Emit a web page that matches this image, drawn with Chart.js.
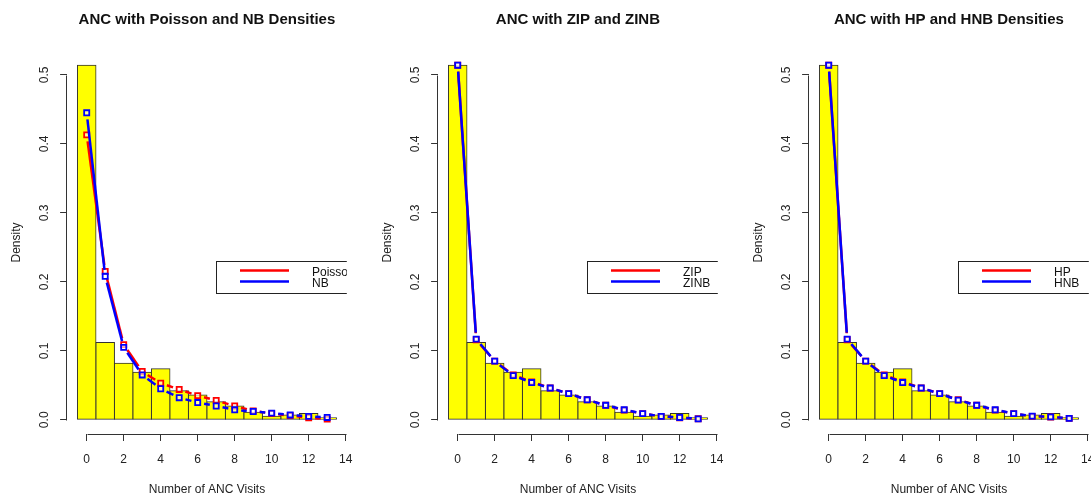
<!DOCTYPE html>
<html>
<head>
<meta charset="utf-8">
<title>ANC visits</title>
<script src="https://cdn.jsdelivr.net/npm/chart.js@4.4.1/dist/chart.umd.min.js"></script>
<style>
  html, body { margin: 0; padding: 0; background: #fff; overflow: hidden; }
  #wrap { position: relative; width: 1091px; height: 497px; overflow: hidden; }
  canvas { position: absolute; top: 0; }
</style>
</head>
<body>
<div id="wrap">
  <canvas id="c1" width="371" height="497" style="left:0px"></canvas>
  <canvas id="c2" width="371" height="497" style="left:371px"></canvas>
  <canvas id="c3" width="371" height="497" style="left:742px"></canvas>
</div>
<script>
// number of ANC visits (0..13) and observed density
var visits = [0, 1, 2, 3, 4, 5, 6, 7, 8, 9, 10, 11, 12, 13];
var ancDensity = [0.514, 0.112, 0.082, 0.069, 0.074, 0.042, 0.036, 0.026, 0.020, 0.011, 0.005, 0.007, 0.009, 0.003];

// fitted densities
var poissonDens = [0.413, 0.215, 0.109, 0.070, 0.053, 0.044, 0.035, 0.028, 0.020, 0.013, 0.009, 0.006, 0.003, 0.001];
var nbDens      = [0.445, 0.208, 0.105, 0.065, 0.045, 0.032, 0.025, 0.020, 0.0145, 0.012, 0.0097, 0.007, 0.005, 0.0034];
var zipDens     = [0.514, 0.116, 0.085, 0.065, 0.055, 0.046, 0.038, 0.029, 0.021, 0.014, 0.009, 0.005, 0.003, 0.0015];
var zinbDens    = [0.514, 0.117, 0.085, 0.064, 0.054, 0.046, 0.038, 0.029, 0.021, 0.0145, 0.009, 0.005, 0.0034, 0.0014];
var hpDens      = [0.514, 0.116, 0.085, 0.065, 0.055, 0.046, 0.038, 0.029, 0.021, 0.014, 0.009, 0.005, 0.004, 0.002];
var hnbDens     = [0.514, 0.117, 0.085, 0.064, 0.054, 0.046, 0.038, 0.0285, 0.021, 0.0145, 0.009, 0.0053, 0.0043, 0.002];

// axis ticks
var xTicks = [0, 2, 4, 6, 8, 10, 12, 14];
var xTickLabels = ['0', '2', '4', '6', '8', '10', '12', '14'];
var yTicks = [0, 0.1, 0.2, 0.3, 0.4, 0.5];
var yTickLabels = ['0.0', '0.1', '0.2', '0.3', '0.4', '0.5'];

Chart.defaults.font.family = '"Liberation Sans", Arial, sans-serif';
Chart.defaults.color = '#222';

function pairs(ys) {
  return visits.map(function (v, i) { return { x: v, y: ys[i] }; });
}

// R type="b": line segments with a gap around each point
function gapDash(ctx) {
  var dx = ctx.p1.x - ctx.p0.x, dy = ctx.p1.y - ctx.p0.y;
  var len = Math.sqrt(dx * dx + dy * dy);
  var gap = 6.5;
  var tail = len + 10 + ctx.p0DataIndex * 0.001;
  if (len <= 2 * gap) return [0, tail];
  return [0, gap, len - 2 * gap, tail];
}

function fitLine(label, ys, color, order) {
  return {
    type: 'line',
    label: label,
    data: pairs(ys),
    borderColor: color,
    borderWidth: 2.5,
    tension: 0,
    pointStyle: 'rect',
    pointRadius: 3.6,
    pointBorderWidth: 1.8,
    pointBorderColor: color,
    pointBackgroundColor: 'rgba(255,255,255,0.6)',
    segment: { borderDash: gapDash },
    order: order
  };
}

// axis lines only over the tick range, like R's axis()
var rAxes = {
  id: 'rAxes',
  afterDraw: function (chart) {
    var c = chart.ctx, a = chart.chartArea;
    var sx = chart.scales.x, sy = chart.scales.y;
    c.save();
    c.strokeStyle = '#333';
    c.lineWidth = 1;
    c.beginPath();
    var yb = Math.round(a.bottom) + 0.5;
    c.moveTo(Math.round(sx.getPixelForValue(xTicks[0])) + 0.5, yb);
    c.lineTo(Math.round(sx.getPixelForValue(xTicks[xTicks.length - 1])) + 0.5, yb);
    var xl = Math.round(a.left) - 0.5;
    c.moveTo(xl, Math.round(sy.getPixelForValue(yTicks[0])) + 0.5);
    c.lineTo(xl, Math.round(sy.getPixelForValue(yTicks[yTicks.length - 1])) + 0.5);
    c.stroke();
    c.restore();
  }
};

// boxed legend placed at data coordinates, clipped to plot region
var rLegend = {
  id: 'rLegend',
  afterDraw: function (chart, args, opts) {
    var c = chart.ctx, a = chart.chartArea;
    var left = Math.round(chart.scales.x.getPixelForValue(opts.x));
    var top = Math.round(chart.scales.y.getPixelForValue(opts.y));
    var items = chart.data.datasets.filter(function (d) { return d.type === 'line'; });
    c.save();
    c.beginPath();
    c.rect(a.left, a.top, a.right - a.left, a.bottom - a.top);
    c.clip();
    c.fillStyle = '#fff';
    c.fillRect(left, top, 160, 32);
    c.strokeStyle = '#222';
    c.lineWidth = 1;
    c.strokeRect(left + 0.5, top + 0.5, 160, 32);
    c.font = '12px "Liberation Sans", Arial, sans-serif';
    c.textBaseline = 'middle';
    c.textAlign = 'left';
    items.forEach(function (d, i) {
      var y = top + 9.5 + i * 11;
      c.strokeStyle = d.borderColor;
      c.lineWidth = 2.5;
      c.beginPath();
      c.moveTo(left + 24, y);
      c.lineTo(left + 73, y);
      c.stroke();
      c.fillStyle = '#111';
      c.fillText(d.label, left + 96, y + 2);
    });
    c.restore();
  }
};

function makePanel(id, title, name1, ys1, name2, ys2) {
  var ctx = document.getElementById(id).getContext('2d');
  return new Chart(ctx, {
    type: 'line',
    data: {
      datasets: [
        {
          type: 'bar',
          label: 'ANC',
          data: pairs(ancDensity),
          backgroundColor: '#ffff00',
          borderColor: '#333',
          borderWidth: 1,
          borderSkipped: false,
          inflateAmount: 0.5,
          barPercentage: 1,
          categoryPercentage: 1,
          order: 3
        },
        fitLine(name1, ys1, '#ff0000', 2),
        fitLine(name2, ys2, '#0000ff', 1)
      ]
    },
    options: {
      responsive: false,
      animation: false,
      events: [],
      layout: { padding: { left: 0, right: 24.2, top: 0, bottom: 0 } },
      plugins: {
        legend: { display: false },
        tooltip: { enabled: false },
        title: {
          display: true,
          text: title,
          fullSize: false,
          color: '#111',
          font: { size: 15, weight: 'bold' },
          padding: { top: 11, bottom: 22 }
        },
        rLegend: { x: 7, y: 0.23 }
      },
      scales: {
        x: {
          type: 'linear',
          min: -1.06,
          max: 14.06,
          offset: false,
          afterBuildTicks: function (s) { s.ticks = xTicks.map(function (v) { return { value: v }; }); },
          afterFit: function (s) { s.height = 63; },
          grid: { display: true, offset: false, drawOnChartArea: false, drawTicks: true, tickLength: 7, color: '#333' },
          border: { display: false },
          ticks: {
            autoSkip: false, maxRotation: 0, minRotation: 0, padding: 11,
            font: { size: 12 },
            callback: function (v, i) { return xTickLabels[i]; }
          },
          title: { display: true, text: 'Number of ANC Visits', font: { size: 12 }, padding: { top: 0, bottom: 0 } }
        },
        y: {
          type: 'linear',
          min: -0.0206,
          max: 0.5346,
          afterBuildTicks: function (s) { s.ticks = yTicks.map(function (v) { return { value: v }; }); },
          afterFit: function (s) { s.width = 67.1; },
          grid: { display: true, offset: false, drawOnChartArea: false, drawTicks: true, tickLength: 7, color: '#333' },
          border: { display: false },
          ticks: {
            autoSkip: false, minRotation: 90, maxRotation: 90, crossAlign: 'center', padding: 7,
            font: { size: 12 },
            callback: function (v, i) { return yTickLabels[i]; }
          },
          title: { display: true, text: 'Density', font: { size: 12 }, padding: { top: 9.5, bottom: 0 } }
        }
      }
    },
    plugins: [rAxes, rLegend]
  });
}

makePanel('c1', 'ANC with Poisson and NB Densities', 'Poisson', poissonDens, 'NB', nbDens);
makePanel('c2', 'ANC with ZIP and ZINB', 'ZIP', zipDens, 'ZINB', zinbDens);
makePanel('c3', 'ANC with HP and HNB Densities', 'HP', hpDens, 'HNB', hnbDens);
</script>
</body>
</html>
